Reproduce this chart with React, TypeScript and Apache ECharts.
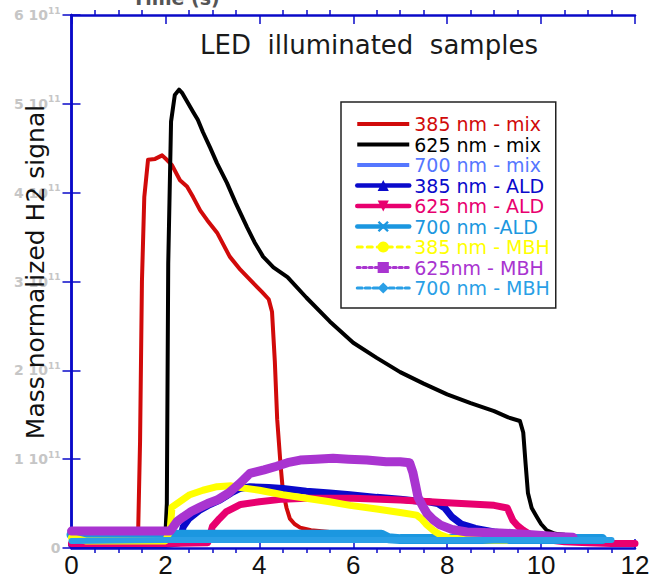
import React, { useEffect, useRef } from "react";
import * as echarts from "echarts";

// ---- data (time in s, signal in units of 1e11) ----
const Y_UNIT = 1e11;
const X_TICKS = [0, 2, 4, 6, 8, 10, 12];
const Y_TICKS = [0, 1, 2, 3, 4, 5, 6];

const SERIES_NAMES = [
  "385 nm - mix",
  "625 nm - mix",
  "700 nm - mix",
  "385 nm - ALD",
  "625 nm - ALD",
  "700 nm -ALD",
  "385 nm - MBH",
  "625nm - MBH",
  "700 nm - MBH",
];

const X_385_MIX = [0, 1.0, 1.42, 1.46, 1.5, 1.55, 1.63, 1.78, 1.93, 2.03, 2.14, 2.31, 2.46, 2.59, 2.74, 2.89, 3.1, 3.37, 3.6, 3.8, 4.06, 4.2, 4.27, 4.33, 4.38, 4.45, 4.5, 4.58, 4.65, 4.75, 4.87, 5.1, 5.5];
const Y_385_MIX = [0.18, 0.18, 0.2, 1.2, 3.0, 3.95, 4.37, 4.38, 4.42, 4.37, 4.31, 4.14, 4.07, 3.95, 3.8, 3.69, 3.55, 3.28, 3.13, 3.02, 2.88, 2.8, 2.66, 2.1, 1.45, 0.95, 0.65, 0.45, 0.33, 0.27, 0.23, 0.2, 0.18];

const X_625_MIX = [0, 1.0, 2.0, 2.03, 2.06, 2.12, 2.2, 2.29, 2.36, 2.48, 2.6, 2.69, 2.8, 2.95, 3.1, 3.31, 3.5, 3.74, 3.9, 4.08, 4.3, 4.6, 5.0, 5.5, 6.0, 6.5, 7.0, 7.5, 8.0, 8.5, 9.0, 9.3, 9.55, 9.62, 9.67, 9.72, 9.8, 9.91, 10.0, 10.12, 10.3, 10.5];
const Y_625_MIX = [0.15, 0.15, 0.15, 0.5, 3.2, 4.8, 5.1, 5.16, 5.12, 5.01, 4.9, 4.82, 4.68, 4.51, 4.33, 4.11, 3.88, 3.61, 3.44, 3.28, 3.16, 3.05, 2.82, 2.55, 2.31, 2.14, 1.98, 1.85, 1.73, 1.63, 1.54, 1.47, 1.43, 1.3, 0.95, 0.62, 0.45, 0.35, 0.27, 0.2, 0.16, 0.15];

const X_700_MIX = [0, 2, 4, 6, 8, 10, 11.5];
const Y_700_MIX = [0.08, 0.08, 0.08, 0.08, 0.08, 0.08, 0.08];

const X_385_ALD = [0, 1, 2, 2.3, 2.38, 2.5, 2.74, 2.95, 3.16, 3.4, 3.59, 3.8, 4.2, 4.5, 5.0, 5.5, 5.93, 6.5, 7.0, 7.35, 7.6, 7.8, 7.95, 8.1, 8.3, 8.6, 9.0, 9.5, 10, 10.5, 11.0, 11.3];
const Y_385_ALD = [0.04, 0.04, 0.04, 0.06, 0.24, 0.33, 0.43, 0.49, 0.54, 0.62, 0.67, 0.69, 0.68, 0.67, 0.64, 0.62, 0.6, 0.57, 0.55, 0.53, 0.52, 0.5, 0.45, 0.35, 0.27, 0.22, 0.18, 0.15, 0.13, 0.12, 0.11, 0.1];

const X_625_ALD = [0, 1, 2, 2.9, 3.0, 3.15, 3.3, 3.6, 4.0, 4.5, 5.0, 6.0, 7.0, 8.0, 9.0, 9.28, 9.4, 9.5, 9.62, 9.8, 10.0, 10.5, 11.0, 11.5, 12.0];
const Y_625_ALD = [0.05, 0.05, 0.05, 0.06, 0.24, 0.33, 0.41, 0.49, 0.52, 0.55, 0.56, 0.56, 0.54, 0.51, 0.48, 0.45, 0.31, 0.25, 0.2, 0.14, 0.1, 0.07, 0.06, 0.05, 0.05];

const X_700_ALD = [0, 1, 2, 3, 4, 5, 6, 6.6, 6.75, 7, 8, 9, 10, 11, 11.3];
const Y_700_ALD = [0.15, 0.15, 0.15, 0.15, 0.15, 0.15, 0.15, 0.15, 0.11, 0.1, 0.1, 0.1, 0.1, 0.1, 0.1];

const X_385_MBH = [0, 0.3, 1, 2.0, 2.1, 2.14, 2.3, 2.52, 2.8, 3.1, 3.4, 3.6, 4.0, 4.5, 5.0, 5.5, 5.93, 6.5, 7.0, 7.35, 7.45, 7.55, 7.7, 7.85, 8.06, 8.5, 9.0, 9.27];
const Y_385_MBH = [0.12, 0.08, 0.08, 0.08, 0.2, 0.46, 0.52, 0.6, 0.65, 0.69, 0.7, 0.68, 0.65, 0.6, 0.56, 0.52, 0.48, 0.44, 0.4, 0.37, 0.33, 0.27, 0.2, 0.15, 0.11, 0.1, 0.09, 0.09];

const X_625_MBH = [0, 1, 2.1, 2.17, 2.25, 2.38, 2.55, 2.74, 2.9, 3.1, 3.35, 3.59, 3.8, 4.1, 4.37, 4.6, 4.87, 5.2, 5.57, 5.9, 6.29, 6.7, 7.0, 7.2, 7.27, 7.33, 7.38, 7.48, 7.57, 7.7, 7.85, 8.1, 8.42, 9.12, 9.8, 10.3, 10.68];
const Y_625_MBH = [0.19, 0.19, 0.19, 0.24, 0.3, 0.35, 0.41, 0.46, 0.5, 0.54, 0.62, 0.73, 0.84, 0.88, 0.92, 0.96, 0.99, 1.0, 1.01, 1.0, 0.99, 0.97, 0.97, 0.96, 0.85, 0.7, 0.57, 0.47, 0.39, 0.32, 0.26, 0.21, 0.18, 0.17, 0.15, 0.13, 0.12];

const X_700_MBH = [0, 2, 4, 6, 8, 10, 11.5];
const Y_700_MBH = [0.08, 0.09, 0.09, 0.09, 0.09, 0.09, 0.09];

const COLORS = ["#d10a0a", "#000000", "#5577ff", "#0a0acb", "#e8006f", "#1b97e0", "#ffff00", "#a934d0", "#2a9fe6"];

const zip = (xs: number[], ys: number[]) => xs.map((x, i) => [x, ys[i] * Y_UNIT]);

const AXIS_BLUE = "#0a0ac8";
const XSHAPE = "path://M0,1.5 L1.5,0 L5,3.5 L8.5,0 L10,1.5 L6.5,5 L10,8.5 L8.5,10 L5,6.5 L1.5,10 L0,8.5 L3.5,5 Z";
const LINE_ICON = "path://M0,0 M52,14 M0,5 L52,5 L52,9 L0,9 Z";

export default function App() {
  const ref = useRef<HTMLDivElement>(null);
  useEffect(() => {
    if (!ref.current) return;
    const chart = echarts.init(ref.current, undefined, { renderer: "svg" });

    const data = [
      zip(X_385_MIX, Y_385_MIX),
      zip(X_625_MIX, Y_625_MIX),
      zip(X_700_MIX, Y_700_MIX),
      zip(X_385_ALD, Y_385_ALD),
      zip(X_625_ALD, Y_625_ALD),
      zip(X_700_ALD, Y_700_ALD),
      zip(X_385_MBH, Y_385_MBH),
      zip(X_625_MBH, Y_625_MBH),
      zip(X_700_MBH, Y_700_MBH),
    ];
    const symbols = ["none", "none", "none", "triangle", "triangle", XSHAPE, "circle", "rect", "diamond"];
    const rotations = [0, 0, 0, 0, 180, 0, 0, 0, 0];
    const widths = [4, 4, 4, 7, 7, 10, 7, 9, 6];
    const legendLine: any[] = [
      { width: 4.5 }, { width: 4.5 }, { width: 4.5 },
      { width: 4.5 }, { width: 4.5 }, { width: 4.5 },
      { width: 3, type: [5, 5] }, { width: 3, type: [3, 3] }, { width: 3, type: [5, 3] },
    ];

    const series = SERIES_NAMES.map((name, i) => ({
      type: "line",
      name,
      data: data[i],
      showSymbol: false,
      symbol: symbols[i],
      symbolRotate: rotations[i],
      color: COLORS[i],
      lineStyle: { width: widths[i], color: COLORS[i], cap: "round", join: "round" },
      silent: true,
      emphasis: { disabled: true },
      xAxisIndex: 0,
      yAxisIndex: 0,
    }));

    const legendData = SERIES_NAMES.map((name, i) => {
      const item: any = {
        name,
        textStyle: { color: COLORS[i] },
        lineStyle: legendLine[i],
      };
      if (i < 3) item.icon = LINE_ICON;
      return item;
    });

    const xBase = {
      type: "value",
      min: X_TICKS[0],
      max: X_TICKS[X_TICKS.length - 1],
      interval: 2,
      splitLine: { show: false },
    };

    chart.setOption({
      animation: false,
      backgroundColor: "#ffffff",
      grid: { left: 71.5, right: 29, top: 15, bottom: 36, outerBoundsMode: "none", containLabel: false },
      legend: {
        orient: "vertical",
        left: 341,
        top: 102,
        itemWidth: 52,
        itemHeight: 14,
        itemGap: 0.5,
        padding: [12, 6, 10, 14],
        borderColor: "#222",
        borderWidth: 1.5,
        backgroundColor: "#ffffff",
        selectedMode: false,
        textStyle: { fontSize: 19, fontFamily: "DejaVu Sans", lineHeight: 20 },
        data: legendData,
      },
      xAxis: [
        {
          ...xBase,
          position: "bottom",
          axisLine: { show: true, lineStyle: { color: AXIS_BLUE, width: 2.5 } },
          axisTick: { show: true, inside: true, length: 9, lineStyle: { color: AXIS_BLUE, width: 1.5 } },
          axisLabel: { show: true, color: "#111", fontSize: 26, fontFamily: "Liberation Sans", margin: 4 },
        },
        {
          ...xBase,
          position: "bottom",
          axisLine: { show: false },
          axisTick: { show: false },
          axisLabel: { show: false },
          minorTick: { show: true, splitNumber: 4, length: 5, lineStyle: { color: AXIS_BLUE, width: 1.5 } },
        },
        {
          ...xBase,
          position: "top",
          axisLine: { show: true, lineStyle: { color: AXIS_BLUE, width: 2.5 } },
          axisTick: { show: true, inside: true, length: 9, lineStyle: { color: AXIS_BLUE, width: 1.5 } },
          axisLabel: { show: false },
        },
        {
          ...xBase,
          position: "top",
          axisLine: { show: false },
          axisTick: { show: false },
          axisLabel: { show: false },
          minorTick: { show: true, splitNumber: 4, length: 5, lineStyle: { color: AXIS_BLUE, width: 1.5 } },
        },
      ],
      yAxis: [
        {
          type: "value",
          position: "left",
          min: Y_TICKS[0] * Y_UNIT,
          max: Y_TICKS[Y_TICKS.length - 1] * Y_UNIT,
          interval: Y_UNIT,
          splitLine: { show: false },
          axisLine: { show: true, lineStyle: { color: AXIS_BLUE, width: 2.5 } },
          axisTick: { show: true, inside: true, length: 9, lineStyle: { color: AXIS_BLUE, width: 1.5 } },
          axisLabel: {
            show: true,
            margin: 11,
            formatter: (v: number) => {
              const n = Math.round(v / Y_UNIT);
              return n === 0 ? "{a|0}" : `{a|${n} 10}{s|11}`;
            },
            rich: {
              a: { fontSize: 14, fontWeight: "bold", color: "#c6c6c6", fontFamily: "DejaVu Sans", lineHeight: 18 },
              s: { fontSize: 9, fontWeight: "bold", color: "#c6c6c6", fontFamily: "DejaVu Sans", verticalAlign: "top", lineHeight: 18 },
            },
          },
        },
        {
          type: "value",
          position: "right",
          min: Y_TICKS[0] * Y_UNIT,
          max: Y_TICKS[Y_TICKS.length - 1] * Y_UNIT,
          interval: Y_UNIT,
          splitLine: { show: false },
          axisLine: { show: true, lineStyle: { color: AXIS_BLUE, width: 2.5 } },
          axisTick: { show: true, inside: true, length: 9, lineStyle: { color: AXIS_BLUE, width: 1.5 } },
          axisLabel: { show: false },
        },
      ],
      graphic: [
        {
          type: "text",
          x: 369,
          y: 45,
          z: 100,
          style: {
            text: "LED  illuminated  samples",
            font: '26px "DejaVu Sans"',
            fill: "#1a1a1a",
            align: "center",
            verticalAlign: "middle",
          },
        },
        {
          type: "text",
          x: 35,
          y: 272,
          rotation: Math.PI / 2,
          z: 100,
          style: {
            text: "Mass normalized H2 signal",
            font: '25px "DejaVu Sans"',
            fill: "#111",
            align: "center",
            verticalAlign: "middle",
          },
        },
        {
          type: "text",
          x: 176,
          y: 7,
          z: 100,
          style: {
            text: "Time (s)",
            font: 'bold 19px "DejaVu Sans"',
            fill: "#555",
            align: "center",
            verticalAlign: "bottom",
          },
        },
      ],
      series,
    });
    return () => chart.dispose();
  }, []);
  return <div ref={ref} style={{ width: 664, height: 584, position: "absolute", left: 0, top: 0 }} />;
}
